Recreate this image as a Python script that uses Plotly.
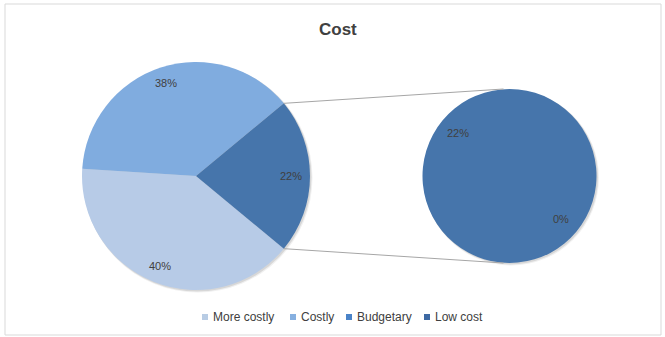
import math
import plotly.graph_objects as go

# ---- data ----
categories = ["More costly", "Costly", "Budgetary", "Low cost"]
values = [40, 38, 22, 0]
title_text = "Cost"
n_main = 2  # first two categories shown in main pie, rest go to the secondary pie

# ---- style ----
W, H = 665, 337
slice_colors = ["#b7cbe7", "#80acdf", "#4675ab", "#3f6ba0"]
legend_colors = ["#b8cce4", "#86b0e0", "#4a83c8", "#3d69a3"]
label_color = "#404040"
font_family = "Liberation Sans, Arial, sans-serif"

main_c = (196, 176)
main_r = 114
sec_c = (509.5, 176)
sec_r = 87

def px2paper(x, y):
    return x / W, 1 - y / H

def domain(c, r):
    return dict(x=[(c[0] - r) / W, (c[0] + r) / W],
                y=[1 - (c[1] + r) / H, 1 - (c[1] - r) / H])

total = sum(values)
other_val = sum(values[n_main:])
main_labels = categories[:n_main] + ["Other"]
main_vals = values[:n_main] + [other_val]
sec_labels = categories[n_main:]
sec_vals = values[n_main:]

a_other = other_val / total * 360.0
rot = 90 + a_other / 2  # other slice centred on 3 o'clock

# soft shadows under pies (drawn first, below pies)
shapes = []
for c, r in ((main_c, main_r), (sec_c, sec_r)):
    for k, op in ((2.5, 0.06), (1.5, 0.10)):
        p0 = px2paper(c[0] - r + 1, c[1] - r + 1)
        p1 = px2paper(c[0] + r + k, c[1] + r + k)
        shapes.append(dict(type="circle", xref="paper", yref="paper", layer="below",
                           x0=p0[0], y0=p1[1], x1=p1[0], y1=p0[1],
                           fillcolor=f"rgba(0,0,0,{op})", line=dict(width=0)))

fig = go.Figure()
fig.add_trace(go.Pie(
    labels=main_labels, values=main_vals, sort=False, direction="clockwise",
    rotation=rot, domain=domain(main_c, main_r), textinfo="none",
    marker=dict(colors=slice_colors[:n_main] + [slice_colors[2]], line=dict(width=0)),
    showlegend=False, hoverinfo="label+percent"))
fig.add_trace(go.Pie(
    labels=sec_labels, values=sec_vals, sort=False,
    direction="clockwise", rotation=rot, domain=domain(sec_c, sec_r), textinfo="none",
    marker=dict(colors=slice_colors[n_main:], line=dict(width=0)),
    showlegend=False, hoverinfo="label"))

annotations = []

def label_pos(c, r, ang_deg, hw=11, hh=5, pad=8):
    a = math.radians(ang_deg)
    d = r - pad - abs(math.cos(a)) * hw - abs(math.sin(a)) * hh
    return c[0] + d * math.cos(a), c[1] - d * math.sin(a)

def add_label(c, r, ang, text):
    x, y = label_pos(c, r, ang)
    px, py = px2paper(x, y)
    annotations.append(dict(x=px, y=py, xref="paper", yref="paper", text=text,
                            xanchor="center", yanchor="middle",
                            showarrow=False, font=dict(size=11, color=label_color,
                                                       family=font_family)))

# main pie labels
start_clock = rot
for lab, v in zip(main_labels, main_vals):
    span = v / total * 360
    mid_clock = start_clock + span / 2
    add_label(main_c, main_r, 90 - mid_clock, f"{round(v / total * 100)}%")
    start_clock += span

# secondary pie labels
sec_total = sum(sec_vals)
start_clock = rot
for lab, v in zip(sec_labels, sec_vals):
    span = v / sec_total * 360 if sec_total else 0
    mid_clock = start_clock + span / 2
    add_label(sec_c, sec_r, 90 - mid_clock, f"{round(v / total * 100)}%")
    start_clock += span

# connector lines between pies
for sgn in (1, -1):
    a = math.radians(sgn * a_other / 2)
    x0 = main_c[0] + main_r * math.cos(a)
    y0 = main_c[1] - main_r * math.sin(a)
    x1 = sec_c[0] - 6
    y1 = sec_c[1] - sgn * sec_r
    p0 = px2paper(x0, y0)
    p1 = px2paper(x1, y1)
    shapes.append(dict(type="line", xref="paper", yref="paper", x0=p0[0], y0=p0[1],
                       x1=p1[0], y1=p1[1], line=dict(color="#a6a6a6", width=1)))

# chart border
b0 = px2paper(5, 4)
b1 = px2paper(661, 335)
shapes.append(dict(type="rect", xref="paper", yref="paper", layer="below",
                   x0=b0[0], y0=b1[1], x1=b1[0], y1=b0[1],
                   line=dict(color="#d9d9d9", width=1), fillcolor="rgba(0,0,0,0)"))

# title
tx, ty = px2paper(338, 30)
annotations.append(dict(x=tx, y=ty, xref="paper", yref="paper", text=f"<b>{title_text}</b>",
                        xanchor="center", yanchor="middle",
                        showarrow=False, font=dict(size=17, color=label_color, family=font_family)))

# legend (manual, Excel style)
legend_marker_x = [202, 290, 346, 424]
legend_y = 317
for lab, col, mx in zip(categories, legend_colors, legend_marker_x):
    q0 = px2paper(mx, legend_y - 3)
    q1 = px2paper(mx + 6, legend_y + 3)
    shapes.append(dict(type="rect", xref="paper", yref="paper",
                       x0=q0[0], y0=q1[1], x1=q1[0], y1=q0[1],
                       fillcolor=col, line=dict(width=0)))
    lx, ly = px2paper(mx + 9, legend_y)
    annotations.append(dict(x=lx, y=ly, xref="paper", yref="paper", text=lab,
                            xanchor="left", yanchor="middle", showarrow=False,
                            font=dict(size=12, color=label_color, family=font_family)))

fig.update_layout(
    width=W, height=H, margin=dict(l=0, r=0, t=0, b=0),
    paper_bgcolor="white", plot_bgcolor="white",
    annotations=annotations, shapes=shapes, showlegend=False,
)

fig.write_html("out.html")
